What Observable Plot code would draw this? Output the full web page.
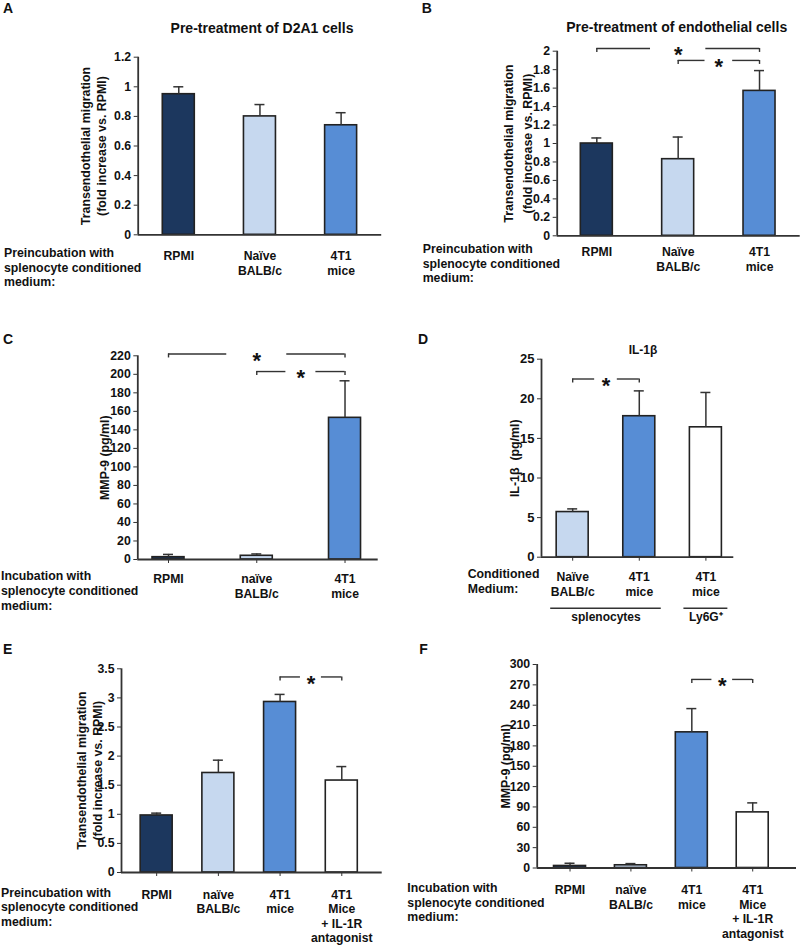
<!DOCTYPE html>
<html><head><meta charset="utf-8">
<script src="https://cdn.jsdelivr.net/npm/d3@7"></script>
<script src="https://cdn.jsdelivr.net/npm/@observablehq/plot@0.6"></script>
<style>
body{margin:0;background:#fff;}
#fig{position:relative;width:800px;height:945px;overflow:hidden;background:#fff;}
#fig svg{position:absolute;}
</style></head><body><div id="fig"></div>
<script>
// ---------- data ----------
const kindDomain = ["rpmi","naive","tumor","white"];

const catsA = ["RPMI","Naïve\nBALB/c","4T1\nmice"];
const kindsA = ["rpmi","naive","tumor"];
const valuesA = [0.95, 0.80, 0.74];
const errorsA = [0.05, 0.08, 0.085];
const yTicksA = [0,0.2,0.4,0.6,0.8,1,1.2];

const catsB = ["RPMI","Naïve\nBALB/c","4T1\nmice"];
const kindsB = ["rpmi","naive","tumor"];
const valuesB = [1.00, 0.83, 1.57];
const errorsB = [0.06, 0.24, 0.22];
const yTicksB = [0,0.2,0.4,0.6,0.8,1,1.2,1.4,1.6,1.8,2];
const bracketsB = [{from:0,to:2,y:2.03},{from:1,to:2,y:1.90}];

const catsC = ["RPMI","naïve\nBALB/c","4T1\nmice"];
const kindsC = ["rpmi","naive","tumor"];
const valuesC = [2.5, 4, 153];
const errorsC = [3, 2, 40];
const yTicksC = [0,20,40,60,80,100,120,140,160,180,200,220];
const bracketsC = [{from:0,to:2,y:222},{from:1,to:2,y:203}];

const catsD = ["Naïve\nBALB/c","4T1\nmice","4T1\nmice"];
const kindsD = ["naive","tumor","white"];
const valuesD = [5.7, 17.8, 16.4];
const errorsD = [0.4, 3.2, 4.4];
const yTicksD = [0,5,10,15,20,25];
const bracketsD = [{from:0,to:1,y:22.5}];
const groupsD = [{label:"splenocytes",from:0,to:1},{label:"Ly6G⁺",from:2,to:2}];

const catsE = ["RPMI","naïve\nBALB/c","4T1\nmice","4T1\nMice\n+ IL-1R\nantagonist"];
const kindsE = ["rpmi","naive","tumor","white"];
const valuesE = [0.98, 1.71, 2.93, 1.58];
const errorsE = [0.04, 0.22, 0.13, 0.24];
const yTicksE = [0,0.5,1,1.5,2,2.5,3,3.5];
const bracketsE = [{from:2,to:3,y:3.36}];

const catsF = ["RPMI","naïve\nBALB/c","4T1\nmice","4T1\nMice\n+ IL-1R\nantagonist"];
const kindsF = ["rpmi","naive","tumor","white"];
const valuesF = [3, 4, 200, 82];
const errorsF = [4, 2.5, 35, 14];
const yTicksF = [0,30,60,90,120,150,180,210,240,270,300];
const bracketsF = [{from:2,to:3,y:278}];

const yLabelMig = "Transendothelial migration\n(fold increase vs. RPMI)";
const yLabelMMP = "MMP-9 (pg/ml)";
const yLabelIL = "IL-1β  (pg/ml)";

const letters = ["A","B","C","D","E","F"];
const titleA = "Pre-treatment of D2A1 cells";
const titleB = "Pre-treatment of endothelial cells";
const titleD = "IL-1β";
const sidePre = ["Preincubation with","splenocyte conditioned","medium:"];
const sideInc = ["Incubation with","splenocyte conditioned","medium:"];
const sideCond = ["Conditioned","Medium:"];

// ---------- styles ----------
const kindColors = ["#1c375e","#c6d8ef","#578dd5","#ffffff"];
const FONT = "'Liberation Sans', Arial, Helvetica, sans-serif";
const INK = "#2a2a2a";
const fig = document.getElementById("fig");

function panel(cfg) {
  const {cats, kinds, values, errors, yTicks, brackets = [], groups = [], box, frame, xDomain,
         yLabel, yLabelDx, yLabelLH = 1.25, xTickSize, xTickPad, yFont = 12.3, xLH = 1.25} = cfg;
  const rows = cats.map((c, i) => ({i, cat: c, kind: kinds[i], value: values[i], err: errors[i]}));
  const mL = frame.x0 - box.left, mR = box.left + box.w - frame.x1;
  const mT = frame.yTop - box.top, mB = box.top + box.h - frame.y0;
  const pxPerX = (frame.x1 - frame.x0) / (xDomain[1] - xDomain[0]);
  const yMax = yTicks[yTicks.length - 1];
  const pxPerY = (frame.y0 - frame.yTop) / yMax;
  const hw = 16 / pxPerX, cap = 5 / pxPerX, tk = 4 / pxPerY;
  const hsegs = [], vsegs = [];
  brackets.forEach(b => {
    const g = (b.to - b.from) * 0.33;
    hsegs.push({x1: b.from, x2: b.from + g, y: b.y});
    hsegs.push({x1: b.to - g, x2: b.to, y: b.y});
    vsegs.push({x: b.from, y1: b.y - tk, y2: b.y});
    vsegs.push({x: b.to, y1: b.y - tk, y2: b.y});
  });
  const svg = Plot.plot({
    width: box.w, height: box.h,
    marginLeft: mL, marginRight: mR, marginTop: mT, marginBottom: mB,
    style: {background: "transparent", overflow: "visible", fontFamily: FONT, fontSize: "12px", color: INK},
    x: {type: "linear", domain: xDomain, axis: null, label: null},
    y: {type: "linear", domain: [0, yMax], axis: null, label: null},
    color: {domain: kindDomain, range: kindColors},
    marks: [
      Plot.rect(rows, {x1: d => d.i - hw, x2: d => d.i + hw, y1: () => 0, y2: "value",
        fill: "kind", stroke: "#222", strokeWidth: 1.6}),
      Plot.ruleX(rows, {x: "i", y1: "value", y2: d => d.value + d.err, stroke: "#333", strokeWidth: 1.5}),
      Plot.ruleY(rows, {y: d => d.value + d.err, x1: d => d.i - cap, x2: d => d.i + cap, stroke: "#333", strokeWidth: 1.5}),
      Plot.ruleY([0], {stroke: "#333", strokeWidth: 1.8}),
      Plot.ruleX([xDomain[0]], {stroke: "#333", strokeWidth: 1.8}),
      Plot.axisY({ticks: yTicks, tickSize: 4, tickPadding: 3, fontSize: yFont, fontWeight: "bold",
        tickFormat: d => String(d), label: null, stroke: "#333", fill: "#111"}),
      Plot.axisX({ticks: rows.map(d => d.i), tickSize: xTickSize, tickPadding: xTickPad,
        tickFormat: i => cats[i], fontSize: 12.2, fontWeight: "bold", lineHeight: xLH,
        label: null, stroke: "#333", fill: "#111"}),
      Plot.text([yLabel], {frameAnchor: "left", rotate: -90, dx: yLabelDx, fontSize: 12.4,
        fontWeight: "bold", lineHeight: yLabelLH, textAnchor: "middle", lineAnchor: "middle", fill: "#111"}),
      Plot.ruleY(hsegs, {x1: "x1", x2: "x2", y: "y", stroke: "#333", strokeWidth: 1.4}),
      Plot.ruleX(vsegs, {x: "x", y1: "y1", y2: "y2", stroke: "#333", strokeWidth: 1.4}),
      Plot.text(brackets, {x: d => (d.from + d.to) / 2, y: "y", text: () => "*", fontSize: 22,
        fontWeight: "bold", lineAnchor: "top", dy: -2, fill: "#111"}),
      Plot.ruleY(groups, {x1: d => d.from - 0.33, x2: d => d.to + 0.33, y: () => 0, dy: 51,
        stroke: "#333", strokeWidth: 1.4}),
      Plot.text(groups, {x: d => (d.from + d.to) / 2, y: () => 0, text: "label", dy: 55,
        lineAnchor: "top", fontSize: 12, fontWeight: "bold", fill: "#111"})
    ]
  });
  svg.style.left = box.left + "px";
  svg.style.top = box.top + "px";
  fig.appendChild(svg);
}

panel({cats: catsA, kinds: kindsA, values: valuesA, errors: errorsA, yTicks: yTicksA,
  box: {left: 0, top: 0, w: 400, h: 310}, frame: {x0: 137.7, x1: 381.2, yTop: 56.7, y0: 234.3},
  xDomain: [-0.5, 2.5], yLabel: yLabelMig, yLabelDx: -45, yLabelLH: 1.25, xTickSize: 0, xTickPad: 14.5});
panel({cats: catsB, kinds: kindsB, values: valuesB, errors: errorsB, yTicks: yTicksB, brackets: bracketsB,
  box: {left: 400, top: 0, w: 400, h: 310}, frame: {x0: 556.7, x1: 799.7, yTop: 50.7, y0: 235.3},
  xDomain: [-0.487, 2.5], yLabel: yLabelMig, yLabelDx: -40.5, yLabelLH: 1.55, xTickSize: 0, xTickPad: 9.5});
panel({cats: catsC, kinds: kindsC, values: valuesC, errors: errorsC, yTicks: yTicksC, brackets: bracketsC,
  box: {left: 0, top: 310, w: 400, h: 310}, frame: {x0: 137.3, x1: 377.7, yTop: 355.3, y0: 559},
  xDomain: [-0.348, 2.376], yLabel: yLabelMMP, yLabelDx: -34, xTickSize: 4, xTickPad: 8.5});
panel({cats: catsD, kinds: kindsD, values: valuesD, errors: errorsD, yTicks: yTicksD, brackets: bracketsD,
  groups: groupsD, box: {left: 400, top: 310, w: 400, h: 320}, frame: {x0: 541, x1: 733.3, yTop: 358.7, y0: 556.7},
  xDomain: [-0.468, 2.419], yLabel: yLabelIL, yLabelDx: -27.7, xTickSize: 4, xTickPad: 9, yFont: 13});
panel({cats: catsE, kinds: kindsE, values: valuesE, errors: errorsE, yTicks: yTicksE, brackets: bracketsE,
  box: {left: 0, top: 620, w: 400, h: 325}, frame: {x0: 121, x1: 381.7, yTop: 668.3, y0: 872},
  xDomain: [-0.57, 3.655], yLabel: yLabelMig, yLabelDx: -33, yLabelLH: 1.33, xTickSize: 4, xTickPad: 12, xLH: 1.18});
panel({cats: catsF, kinds: kindsF, values: valuesF, errors: errorsF, yTicks: yTicksF, brackets: bracketsF,
  box: {left: 400, top: 620, w: 400, h: 325}, frame: {x0: 536.7, x1: 796, yTop: 664, y0: 867.5},
  xDomain: [-0.539, 3.719], yLabel: yLabelMMP, yLabelDx: -31.7, xTickSize: 4, xTickPad: 11.5, xLH: 1.2});

// ---------- annotations (letters, titles, side labels) ----------
const ov = d3.select(fig).append("svg")
  .attr("width", 800).attr("height", 945)
  .style("left", "0px").style("top", "0px")
  .style("font-family", FONT).style("font-weight", "bold").attr("fill", "#111");

const letterPos = [[3,13],[421.7,13],[3,343.5],[418,343.5],[3,653.5],[419.3,653.5]];
letters.forEach((t, k) => ov.append("text").attr("x", letterPos[k][0]).attr("y", letterPos[k][1])
  .attr("font-size", 14).text(t));

ov.append("text").attr("x", 262).attr("y", 33).attr("text-anchor", "middle").attr("font-size", 14).text(titleA);
ov.append("text").attr("x", 676.7).attr("y", 32.3).attr("text-anchor", "middle").attr("font-size", 14).text(titleB);
ov.append("text").attr("x", 643).attr("y", 354).attr("text-anchor", "middle").attr("font-size", 12).text(titleD);

function side(lines, x, y0, lh) {
  lines.forEach((t, k) => ov.append("text").attr("x", x).attr("y", y0 + k * lh).attr("font-size", 12.3).text(t));
}
side(sidePre, 4, 257.3, 14.4);
side(sidePre, 422.7, 253.3, 14.2);
side(sideInc, 1, 580, 15);
side(sideCond, 467.7, 578.3, 14.4);
side(sidePre, 1, 896.7, 14.7);
side(sideInc, 407.3, 891.7, 14.8);
</script></body></html>
